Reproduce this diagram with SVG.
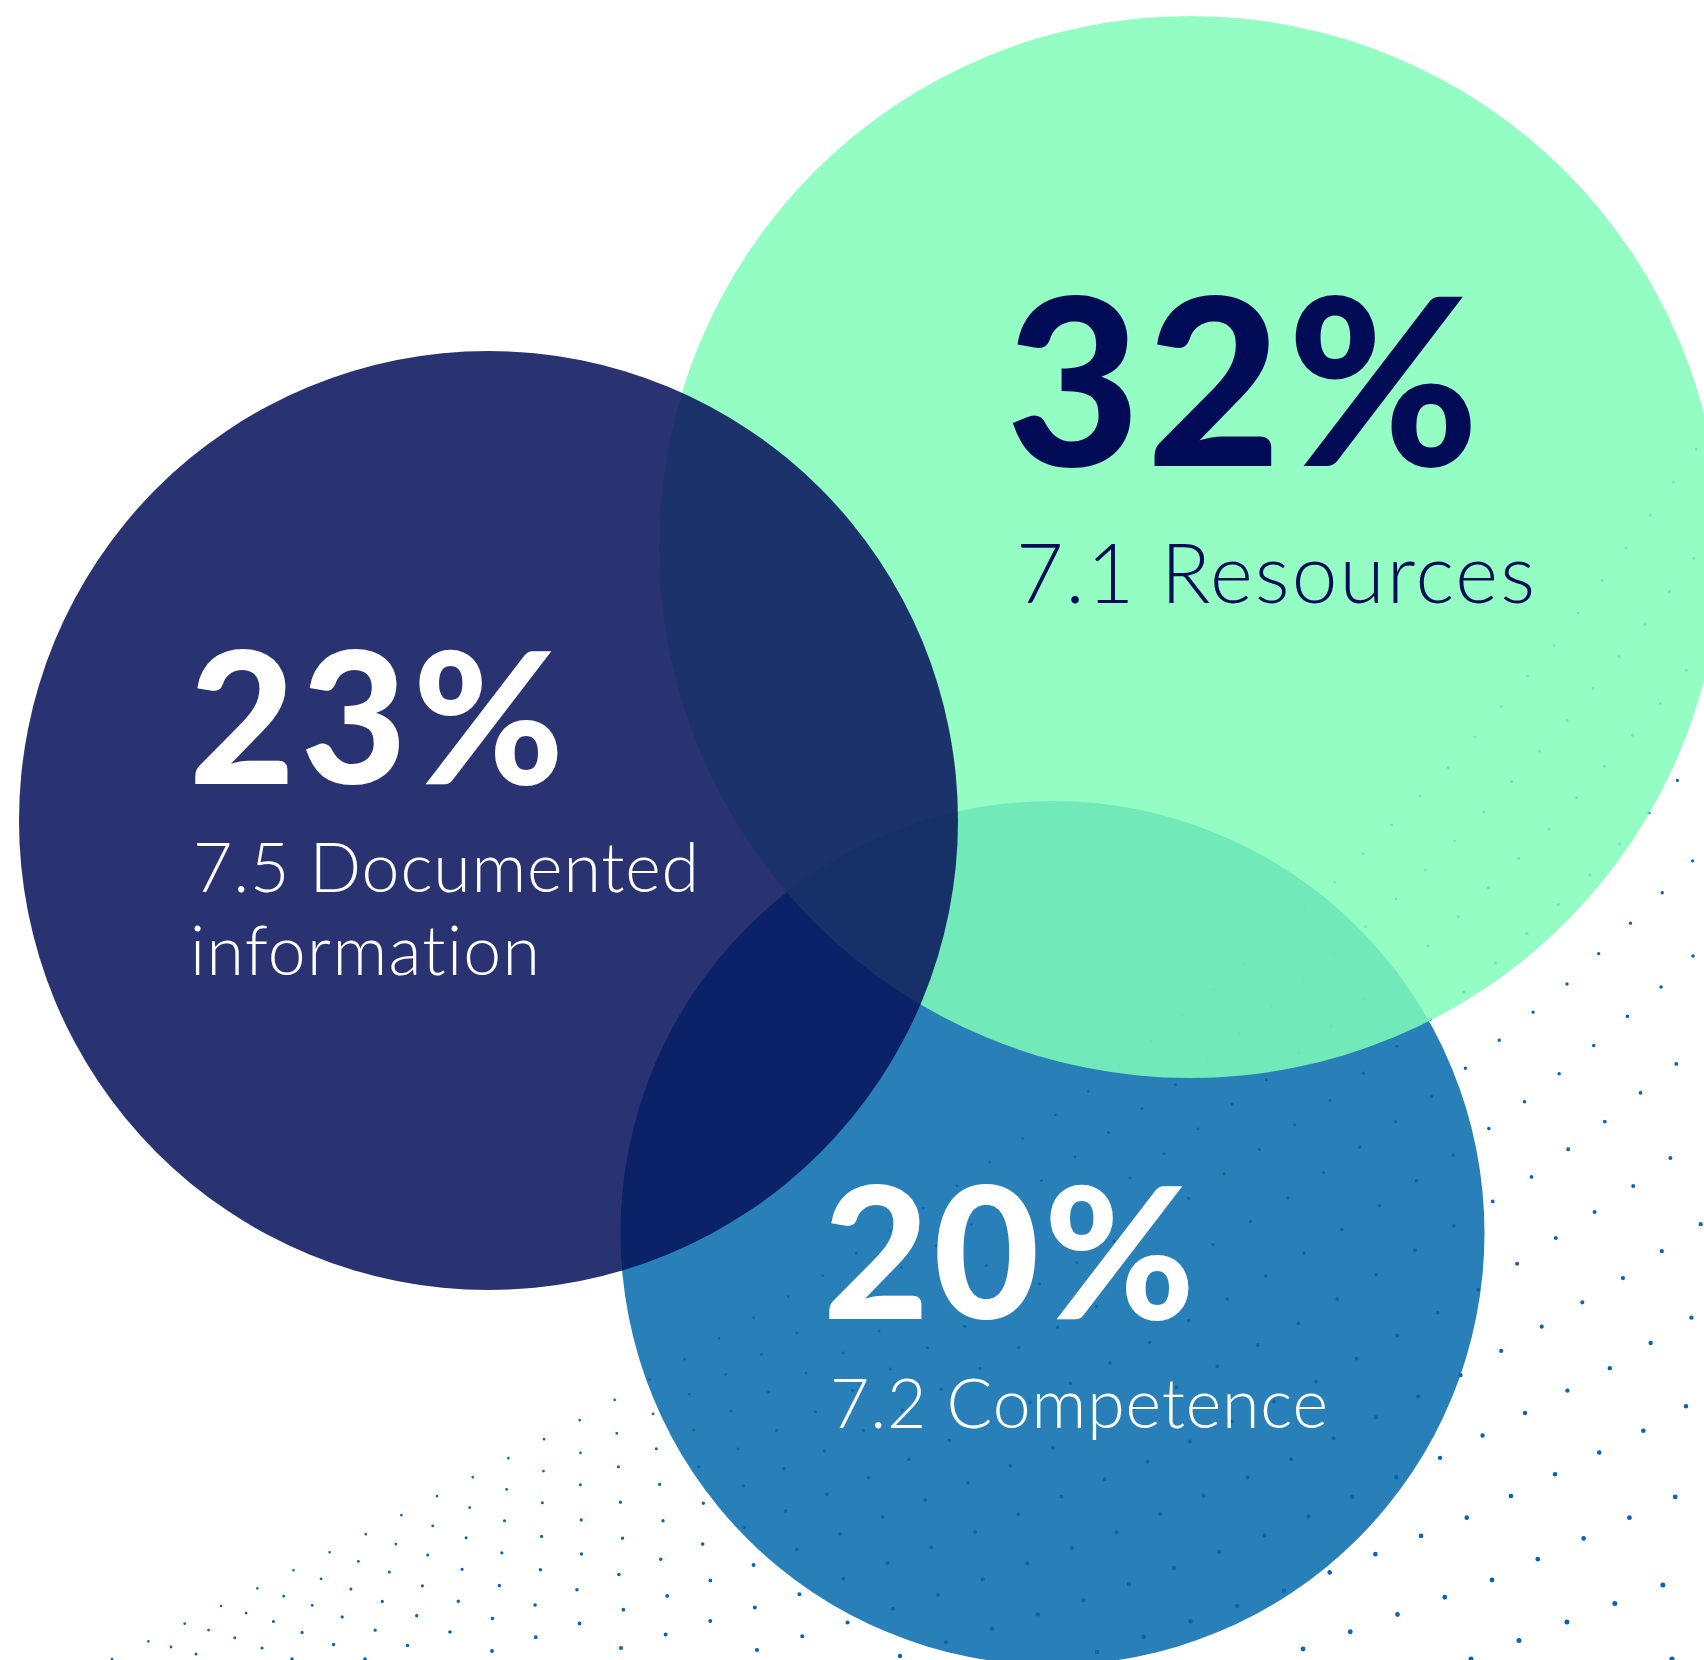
<svg xmlns="http://www.w3.org/2000/svg" width="1704" height="1660" viewBox="0 0 1704 1660">
<style>
.num{font-family:Lato,"Noto Sans","Liberation Sans",sans-serif;font-weight:900;font-variant-ligatures:none;font-feature-settings:"liga" 0,"dlig" 0;}
.lbl{font-family:Lato,"Noto Sans","Liberation Sans",sans-serif;font-weight:300;font-variant-ligatures:none;font-feature-settings:"liga" 0,"dlig" 0;}
.dots path{fill:none;stroke:#0b63b3;stroke-linecap:round;}
</style>
<rect width="1704" height="1660" fill="#ffffff"/>
<g id="dots" class="dots">
<path stroke-width="2.6" stroke-dasharray="0 40.4" d="M112,1659 L258,1588 L366,1534 L473,1477 L580,1420 L685,1359 L824,1275 L958,1185 L1089,1091 L1215,989 L1336,881 L1450,766 L1555,644 L1655,509 L1720,415"/>
<path stroke-width="2.8" stroke-dasharray="0 41.2" d="M171,1647 L284,1596 L396,1544 L469,1508 L580,1453 L653,1414 L761,1355 L1041,1181 L1175,1085 L1303,982 L1395,900 L1483,813 L1566,722 L1644,626 L1694,558 L1720,522"/>
<path stroke-width="3.0" stroke-dasharray="0 42" d="M196,1654 L351,1589 L504,1521 L656,1449 L806,1373 L843,1353 L1130,1178 L1266,1080 L1428,946 L1549,829 L1660,704 L1683,675 L1712,638"/>
<path stroke-width="3.2" stroke-dasharray="0 43" d="M262,1648 L422,1586 L581,1520 L738,1449 L815,1412 L1188,1199 L1329,1101 L1463,993 L1589,876 L1648,814 L1697,758 L1725,725"/>
<path stroke-width="3.4" stroke-dasharray="0 44" d="M292,1659 L459,1601 L623,1538 L785,1468 L825,1451 L1212,1245 L1288,1198 L1432,1096 L1567,984 L1663,892 L1722,830"/>
<path stroke-width="3.6" stroke-dasharray="0 44.6" d="M365,1659 L535,1605 L703,1544 L868,1478 L908,1460 L1069,1384 L1147,1344 L1224,1301 L1301,1255 L1378,1207 L1451,1157 L1523,1103 L1592,1047 L1659,989 L1691,958 L1722,927"/>
<path stroke-width="3.8" stroke-dasharray="0 45.9" d="M492,1651 L667,1596 L840,1534 L1010,1466 L1052,1448 L1174,1389 L1296,1325 L1530,1178 L1603,1123 L1675,1065 L1712,1034"/>
<path stroke-width="4.0" stroke-dasharray="0 46.6" d="M621,1648 L800,1594 L975,1532 L1147,1462 L1315,1382 L1478,1290 L1632,1187 L1710,1128"/>
<path stroke-width="4.2" stroke-dasharray="0 47.3" d="M757,1650 L938,1595 L1117,1532 L1292,1459 L1461,1375 L1623,1278 L1701,1224 L1740,1196"/>
<path stroke-width="4.4" stroke-dasharray="0 48" d="M900,1656 L1085,1600 L1266,1535 L1442,1457 L1612,1367 L1694,1316 L1740,1286"/>
<path stroke-width="4.6" stroke-dasharray="0 49.2" d="M1097,1652 L1283,1591 L1466,1518 L1643,1431 L1730,1381"/>
<path stroke-width="4.8" stroke-dasharray="0 50.3" d="M1303,1649 L1492,1580 L1675,1497 L1722,1474"/>
<path stroke-width="5.0" stroke-dasharray="0 51.4" d="M1471,1659 L1663,1585 L1712,1564"/>
<path stroke-width="5.2" stroke-dasharray="0 52" d="M1672,1659 L1722,1640"/>
</g>
<g id="node-competence">
<circle cx="1052.5" cy="1233" r="432" fill="#0468ac" fill-opacity="0.85"/>
<text class="num" x="823" y="1319" font-size="183" fill="#ffffff" textLength="372" lengthAdjust="spacing">20%</text>
<text class="lbl" x="830" y="1428" font-size="68" fill="#ffffff" textLength="498" lengthAdjust="spacing">7.2 Competence</text>
</g>
<g id="node-resources">
<circle cx="1190" cy="547" r="531" fill="#80fdb8" fill-opacity="0.845"/>
<text class="num" x="1006" y="466" font-size="232" fill="#020c56" textLength="473" lengthAdjust="spacing">32%</text>
<text class="lbl" x="1016" y="603" font-size="82" fill="#020c56" textLength="519" lengthAdjust="spacing">7.1 Resources</text>
</g>
<g id="node-documented">
<circle cx="488.5" cy="820.5" r="469.5" fill="#07115b" fill-opacity="0.86"/>
<text class="num" x="189" y="784" font-size="183" fill="#ffffff" textLength="375" lengthAdjust="spacing">23%</text>
<text class="lbl" x="193" y="892" font-size="68" fill="#ffffff" textLength="506" lengthAdjust="spacing">7.5 Documented</text>
<text class="lbl" x="190" y="975" font-size="68" fill="#ffffff" textLength="350" lengthAdjust="spacing">information</text>
</g>
</svg>
